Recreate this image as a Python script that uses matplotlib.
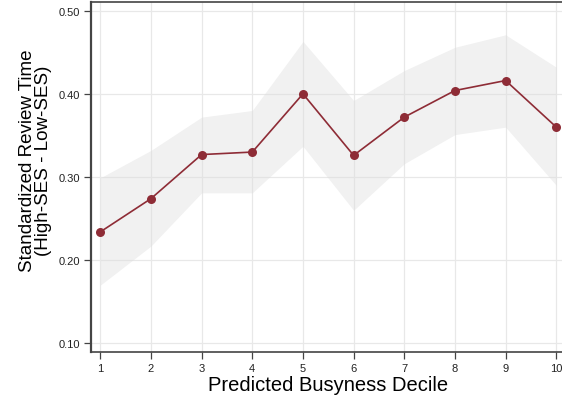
import matplotlib
matplotlib.use("Agg")
import matplotlib.pyplot as plt

# Difference in standardized review time by predicted busyness decile
deciles = [1, 2, 3, 4, 5, 6, 7, 8, 9, 10]
estimate = [0.234, 0.274, 0.327, 0.330, 0.400, 0.326, 0.372, 0.404, 0.416, 0.360]
ci_upper = [0.299, 0.332, 0.372, 0.380, 0.463, 0.392, 0.428, 0.456, 0.471, 0.432]
ci_lower = [0.170, 0.217, 0.281, 0.281, 0.337, 0.260, 0.316, 0.351, 0.360, 0.290]
yticks = [0.10, 0.20, 0.30, 0.40, 0.50]

plt.rcParams['font.family'] = ['Liberation Sans', 'DejaVu Sans']

W, H = 562, 402
fig = plt.figure(figsize=(W / 100, H / 100), dpi=100)
left, right, bottom, top = 91, 565.6, 353, 2.7
ax = fig.add_axes([left / W, 1 - bottom / H, (right - left) / W, (bottom - top) / H])

ax.fill_between(deciles, ci_lower, ci_upper, color='#dcdcdc', alpha=0.4,
                linewidth=0, zorder=2)
ax.plot(deciles, estimate, color='#8e2c36', linewidth=1.2, marker='o',
        markersize=6.5, markeredgewidth=0, zorder=3)

ax.set_xlim(0.8165, 10.1835)
ax.set_ylim(0.0896, 0.5108)
ax.set_xticks(deciles)
ax.set_yticks(yticks)
ax.set_yticklabels([f"{v:.2f}" for v in yticks])
ax.grid(True, color='#e8e8e8', linewidth=0.9, zorder=1)
ax.set_axisbelow(True)

for side in ['left', 'bottom', 'top', 'right']:
    ax.spines[side].set_color('#444444')
ax.spines['left'].set_linewidth(1.6)
ax.spines['bottom'].set_linewidth(1.2)
ax.spines['top'].set_linewidth(1.2)

ax.tick_params(axis='both', direction='out', length=5, width=0.9,
               color='#444444', labelsize=8, labelcolor='#222222', pad=3)

ax.set_xlabel('Predicted Busyness Decile', fontsize=14.5, labelpad=1.5)
ax.set_ylabel('Standardized Review Time\n(High-SES - Low-SES)', fontsize=13.5,
              linespacing=0.95)
ax.yaxis.set_label_coords(-0.082, 0.55)

fig.savefig('out.png', dpi=100)
